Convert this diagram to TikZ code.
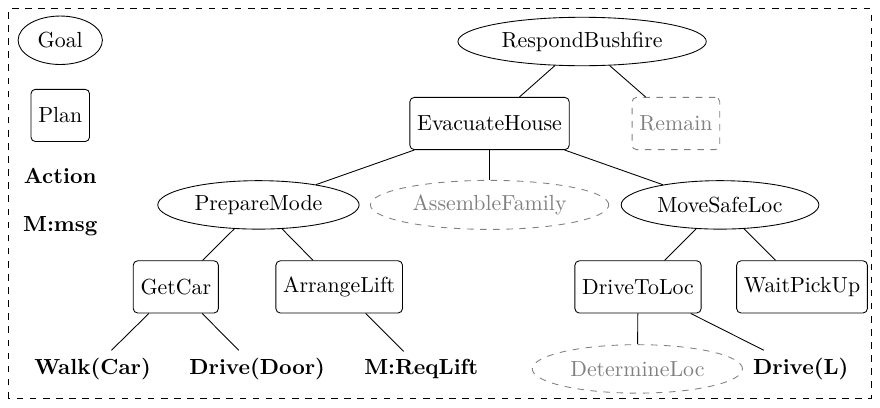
\documentclass[tikz,border=0pt]{standalone}
\usetikzlibrary{shapes.geometric}
\tikzset{
   goal/.style={draw, ellipse, minimum height=0.78cm},
   plan/.style={draw, rounded corners=2pt, minimum height=0.84cm},
   act/.style={font=\bfseries},
   opt/.style={dashed, draw=gray, text=gray},
}
\begin{document}
\begin{tikzpicture}
   \useasboundingbox (0, 0) rectangle (14.165, 6.558);
   \draw[dashed] (0.143, 0.143) rectangle (14.02, 6.416);
   % legend
   \node[goal] (lgoal) at (0.97, 5.91) {Goal};
   \node[plan] (lplan) at (0.97, 4.70) {Plan};
   \node[act] (lact) at (0.97, 3.72) {Action};
   \node[act] (lmsg) at (0.97, 2.92) {M:msg};
   % tree
   \node[goal] (respond) at (9.37, 5.89) {RespondBushfire};
   \node[plan] (evacuate) at (7.88, 4.57) {EvacuateHouse};
   \node[plan, opt] (remain) at (10.88, 4.57) {Remain};
   \node[goal] (prepare) at (4.16, 3.26) {PrepareMode};
   \node[goal, opt] (assemble) at (7.88, 3.26) {AssembleFamily};
   \node[goal] (movesafe) at (11.59, 3.26) {MoveSafeLoc};
   \node[plan] (getcar) at (2.83, 1.94) {GetCar};
   \node[plan] (arrange) at (5.46, 1.94) {ArrangeLift};
   \node[plan] (drivetoloc) at (10.27, 1.94) {DriveToLoc};
   \node[plan] (waitpick) at (12.91, 1.94) {WaitPickUp};
   \node[act] (walk) at (1.49, 0.62) {Walk(Car)};
   \node[act] (drivedoor) at (4.14, 0.62) {Drive(Door)};
   \node[act] (reqlift) at (6.78, 0.62) {M:ReqLift};
   \node[goal, opt] (determine) at (10.26, 0.62) {DetermineLoc};
   \node[act] (drivel) at (12.89, 0.62) {Drive(L)};
   \foreach \p/\c in {respond/evacuate, respond/remain,
         evacuate/prepare, evacuate/assemble, evacuate/movesafe,
         prepare/getcar, prepare/arrange, movesafe/drivetoloc, movesafe/waitpick,
         getcar/walk, getcar/drivedoor, arrange/reqlift,
         drivetoloc/determine, drivetoloc/drivel} {
      \draw (\p) -- (\c);
   }
\end{tikzpicture}
\end{document}
